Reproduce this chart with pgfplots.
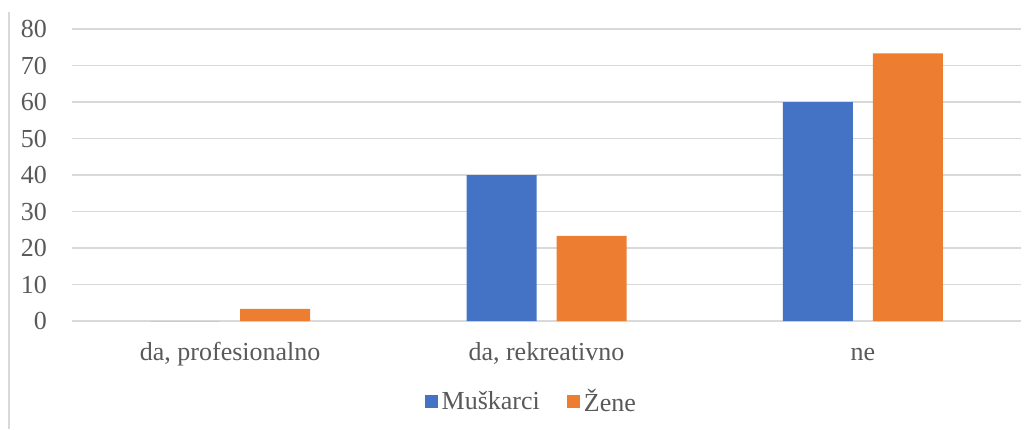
\documentclass[border=0pt]{standalone}
\usepackage{pgfplots}
\pgfplotsset{compat=1.18}
\usepackage{fontspec}
\setmainfont{Liberation Serif}
\definecolor{cblue}{HTML}{4472C4}
\definecolor{corange}{HTML}{ED7D31}
\definecolor{txt}{HTML}{595959}
\definecolor{grd}{HTML}{D9D9D9}
\begin{document}
\begin{tikzpicture}
\useasboundingbox (-36pt,-54pt) rectangle (480pt,160.5pt);
\draw[grd, line width=0.8pt] (-31.5pt,154.5pt) -- (-31.5pt,-54pt);
\begin{axis}[
  at={(0pt,0pt)}, anchor=south west,
  scale only axis,
  width=474.5pt, height=146pt,
  xmin=-0.5, xmax=2.5, ymin=0, ymax=80,
  ybar=10pt, bar width=35pt,
  axis line style={draw=none},
  xtick={0,1,2},
  xticklabels={{da, profesionalno},{da, rekreativno},{ne}},
  ytick={0,10,...,80},
  major tick length=0pt,
  ymajorgrids, grid style={grd, line width=0.6pt},
  tick label style={font=\fontsize{13}{15}\selectfont, text=txt},
  /pgf/number format/assume math mode=true,
  yticklabel style={xshift=-9pt},
  xticklabel style={anchor=base, yshift=-19.5pt},
  legend style={draw=none, fill=none, legend columns=2,
    at={(0.485,0)}, anchor=north, yshift=-30pt,
    font=\fontsize{13}{15}\selectfont, text=txt,
    /tikz/every odd column/.style={column sep=0pt},
    /tikz/every even column/.append style={column sep=11.5pt}},
  legend cell align=left,
  legend image code/.code={\fill[#1] (0pt,-3pt) rectangle (6.5pt,3.5pt);},
]
\addplot[fill=cblue, draw=none] coordinates {(0,0) (1,40) (2,60)};
\addplot[fill=corange, draw=none] coordinates {(0,3.33) (1,23.33) (2,73.33)};
\legend{Muškarci, Žene}
\end{axis}
\end{tikzpicture}
\end{document}
